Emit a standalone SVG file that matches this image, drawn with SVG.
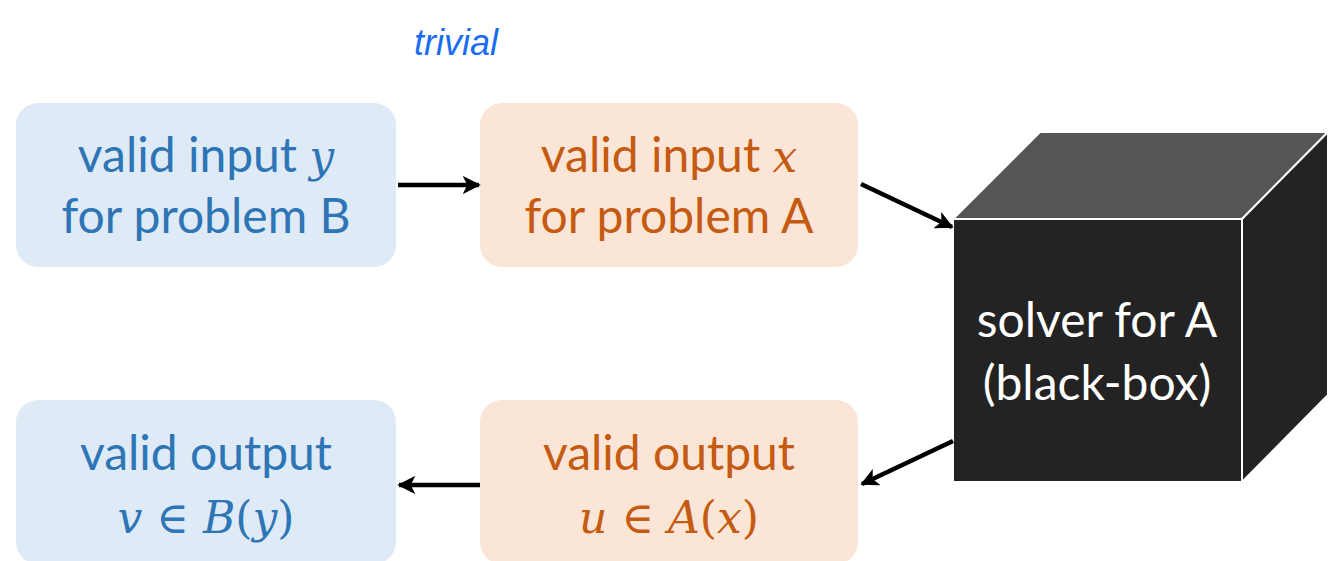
<svg xmlns="http://www.w3.org/2000/svg" width="1339" height="561" viewBox="0 0 1339 561">
<defs>
<style>
.blue{fill:#DEEBF7}
.orange{fill:#FBE5D6}
.t{font-family:Lato,"Open Sans","Liberation Sans",sans-serif;font-size:48px;text-anchor:middle}
.tb{fill:#2E75B6}
.to{fill:#C55A11}
.tw{fill:#FFFFFF}
.m{font-family:"DejaVu Serif","Liberation Serif",serif;font-style:italic;font-size:44px}
.mu{font-family:"DejaVu Serif","Liberation Serif",serif;font-style:normal;font-size:44px}
.conn{stroke:#000;stroke-width:4.5;fill:none;marker-end:url(#ah)}
</style>
<marker id="ah" viewBox="0 0 10 10" refX="9" refY="5" markerWidth="4" markerHeight="4" orient="auto" markerUnits="strokeWidth">
<path d="M0,0 L10,5 L0,10 L2.5,5 z" fill="#000"/>
</marker>
</defs>
<rect width="1339" height="561" fill="#fff"/>
<text x="456" y="55" font-family="'Liberation Sans',sans-serif" font-style="italic" font-size="36" fill="#1a6cf0" text-anchor="middle">trivial</text>
<g id="inputB">
<rect class="blue" x="16" y="103" width="380" height="164" rx="22"/>
<text class="t tb" x="206" y="172">valid input <tspan class="m">y</tspan></text>
<text class="t tb" x="206" y="233">for problem B</text>
</g>
<g id="inputA">
<rect class="orange" x="480" y="103" width="378" height="164" rx="22"/>
<text class="t to" x="669" y="172">valid input <tspan class="m">x</tspan></text>
<text class="t to" x="669" y="233">for problem A</text>
</g>
<g id="outputB">
<rect class="blue" x="16" y="400" width="380" height="164" rx="22"/>
<text class="t tb" x="206" y="470">valid output</text>
<text class="t tb" x="206" y="533"><tspan class="m">v</tspan><tspan class="mu"> ∈ </tspan><tspan class="m">B</tspan><tspan class="mu">(</tspan><tspan class="m">y</tspan><tspan class="mu">)</tspan></text>
</g>
<g id="outputA">
<rect class="orange" x="480" y="400" width="378" height="164" rx="22"/>
<text class="t to" x="669" y="470">valid output</text>
<text class="t to" x="669" y="533"><tspan class="m">u</tspan><tspan class="mu"> ∈ </tspan><tspan class="m">A</tspan><tspan class="mu">(</tspan><tspan class="m">x</tspan><tspan class="mu">)</tspan></text>
</g>
<g id="solver" stroke="#fff" stroke-width="2" stroke-linejoin="round">
<polygon points="953,219 1040,132 1328,132 1242,219" fill="#555555"/>
<polygon points="1242,219 1328,132 1328,395 1242,482" fill="#232323"/>
<rect x="953" y="219" width="289" height="263" fill="#232323"/>
<text class="t tw" x="1097" y="337" stroke="none">solver for A</text>
<text class="t tw" x="1097" y="400" stroke="none">(black-box)</text>
</g>
<g id="connectors">
<line class="conn" x1="398" y1="185" x2="479" y2="185"/>
<line class="conn" x1="861" y1="184" x2="952" y2="227"/>
<line class="conn" x1="953" y1="441" x2="862" y2="484"/>
<line class="conn" x1="480" y1="485" x2="399" y2="485"/>
</g>
</svg>
